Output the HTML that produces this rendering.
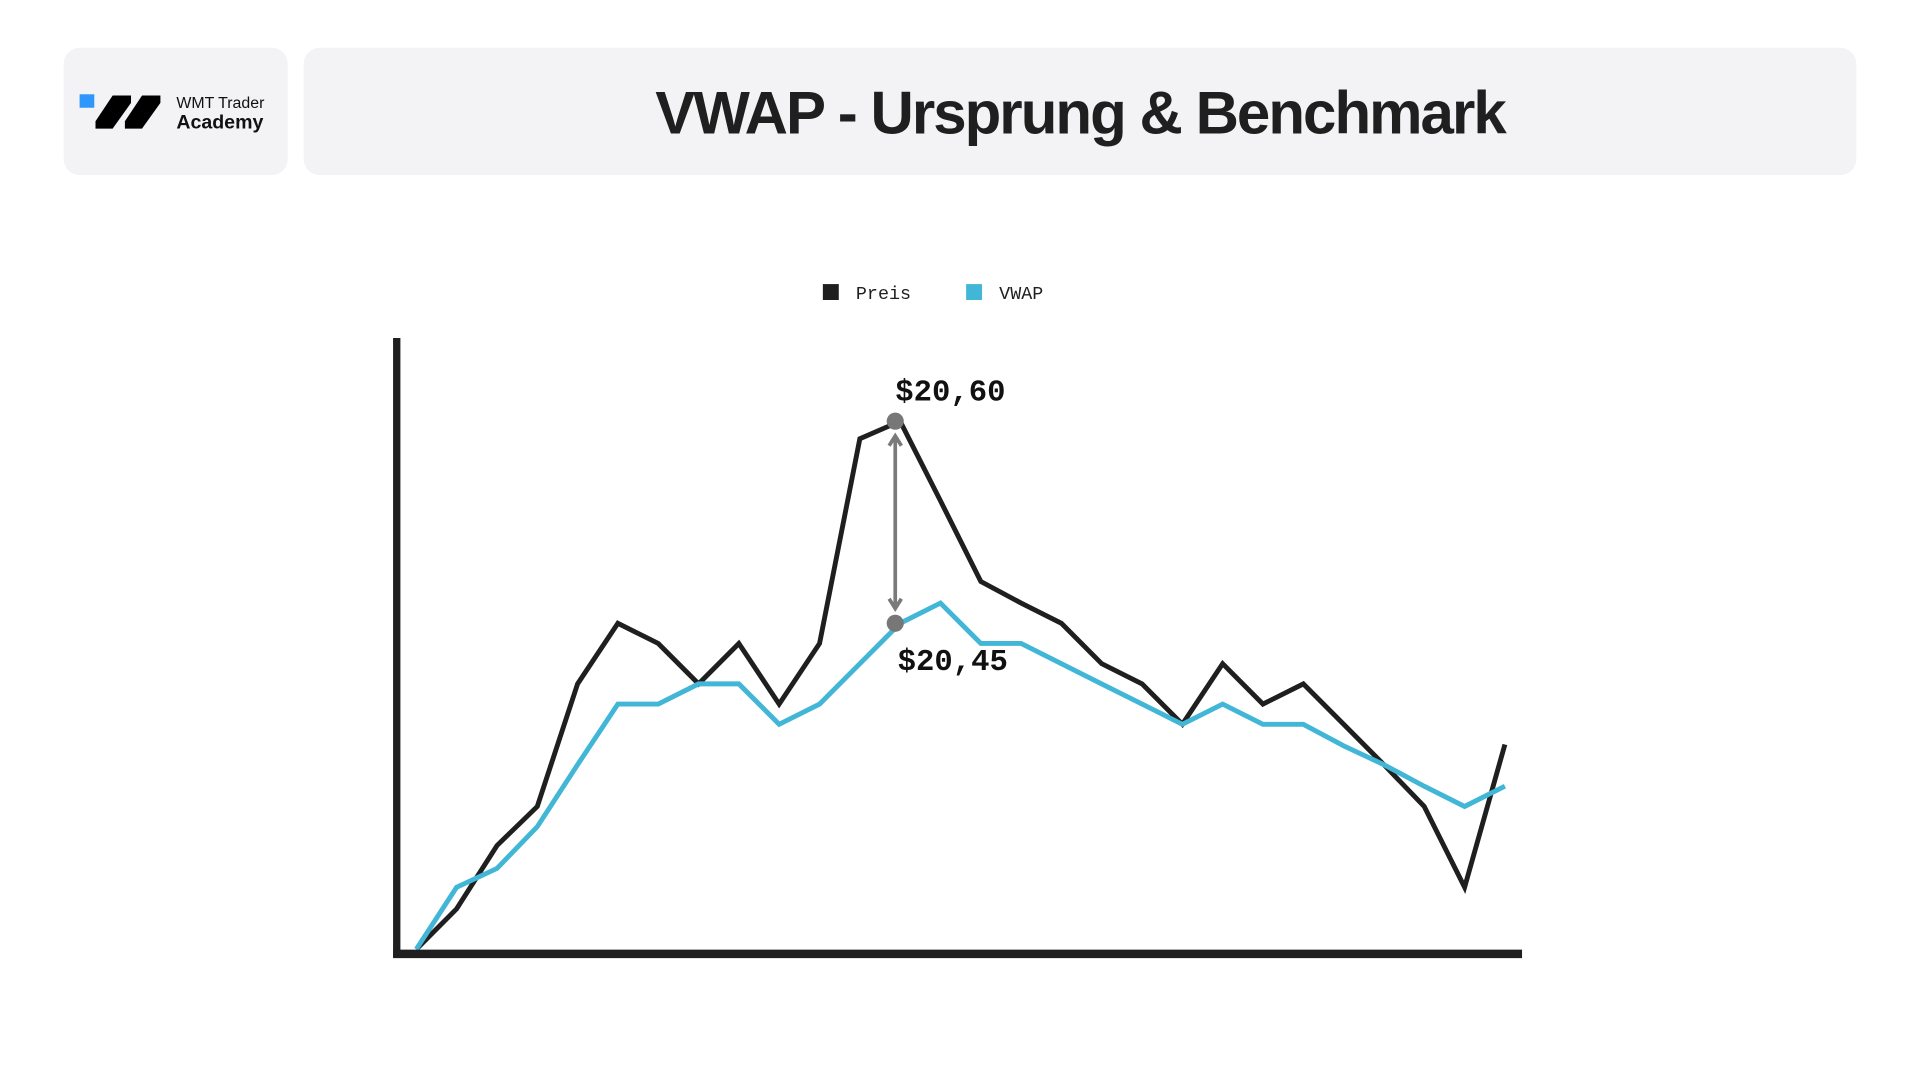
<!DOCTYPE html>
<html><head><meta charset="utf-8">
<style>
html,body{margin:0;padding:0;background:#fff;}
body{width:1920px;height:1080px;overflow:hidden;}
svg{display:block;}
</style></head>
<body>
<svg id="chart" width="1920" height="1080" viewBox="0 0 1568 882" xmlns="http://www.w3.org/2000/svg">
  <rect x="52" y="39" width="183" height="104" rx="13" fill="#f3f3f5"/>
  <rect x="65" y="77" width="12" height="11" fill="#2f96fb"/>
  <polygon points="92,78 107,78 107,84 92,105 78,105 78,99" fill="#000"/>
  <polygon points="116,78 131,78 131,84 116,105 102,105 102,99" fill="#000"/>
  <text x="144" y="88" font-family="Liberation Sans, sans-serif" font-size="13" fill="#111">WMT Trader</text>
  <text x="144" y="105" font-family="Liberation Sans, sans-serif" font-size="16" font-weight="bold" fill="#111">Academy</text>
  <rect x="248" y="39" width="1268" height="104" rx="13" fill="#f3f3f5"/>
  <text x="882" y="109" text-anchor="middle" font-family="Liberation Sans, sans-serif" font-size="49" font-weight="bold" letter-spacing="-1.6" fill="#1f1f1f">VWAP - Ursprung &amp; Benchmark</text>

  <g>
    <rect x="672" y="232" width="13" height="13" fill="#1f1f1f"/>
    <text x="699" y="244" font-family="Liberation Mono, monospace" font-size="15" fill="#1f1f1f">Preis</text>
    <rect x="789" y="232" width="13" height="13" fill="#41b6d6"/>
    <text x="816" y="244" font-family="Liberation Mono, monospace" font-size="15" fill="#1f1f1f">VWAP</text>
  </g>

  <g id="plot"></g>
  <line x1="324" y1="276" x2="324" y2="782" stroke="#1f1f1f" stroke-width="6"/>
  <line x1="321" y1="779" x2="1243" y2="779" stroke="#1f1f1f" stroke-width="7"/>
</svg>
<script>
const categories = Array.from({length:28},(_,i)=>'t'+(i+1));
const priceValues = [20.208,20.238,20.285,20.314,20.405,20.450,20.435,20.405,20.435,20.390,20.435,20.587,20.600,20.541,20.481,20.465,20.450,20.420,20.405,20.375,20.420,20.390,20.405,20.375,20.345,20.314,20.254,20.360];
const vwapValues  = [20.208,20.254,20.268,20.299,20.345,20.390,20.390,20.405,20.405,20.375,20.390,20.420,20.450,20.465,20.435,20.435,20.420,20.405,20.390,20.375,20.390,20.375,20.375,20.359,20.345,20.329,20.314,20.329];
const highlightIndex = 12;
const highlightLabels = ['$20,60','$20,45'];

const NS='http://www.w3.org/2000/svg';
const plot=document.getElementById('plot');
const xScale=i=>340+(1229-340)*i/(categories.length-1);
const yScale=v=>344+(20.60-v)*(509-344)/0.15;

function mk(tag,attrs){const e=document.createElementNS(NS,tag);for(const k in attrs)e.setAttribute(k,attrs[k]);plot.appendChild(e);return e;}

const pricePts=priceValues.map((v,i)=>xScale(i).toFixed(1)+','+yScale(v).toFixed(1)).join(' ');
const vwapPts=vwapValues.map((v,i)=>xScale(i).toFixed(1)+','+yScale(v).toFixed(1)).join(' ');
const pl=mk('polyline',{points:pricePts,fill:'none',stroke:'#1f1f1f','stroke-width':4,'stroke-linejoin':'miter'});


const vl=mk('polyline',{points:vwapPts,fill:'none',stroke:'#41b6d6','stroke-width':4,'stroke-linejoin':'miter'});



const hx=xScale(highlightIndex)-4;
const yTop=yScale(priceValues[highlightIndex]);
const yBot=yScale(vwapValues[highlightIndex]);
const ar=mk('line',{x1:hx,y1:yTop+12,x2:hx,y2:yBot-12,stroke:'#7a7a7a','stroke-width':3});


const h1=mk('polyline',{points:`${hx-5},${yTop+20} ${hx},${yTop+12} ${hx+5},${yTop+20}`,fill:'none',stroke:'#7a7a7a','stroke-width':3});


const h2=mk('polyline',{points:`${hx-5},${yBot-20} ${hx},${yBot-12} ${hx+5},${yBot-20}`,fill:'none',stroke:'#7a7a7a','stroke-width':3});


const d1=mk('circle',{cx:hx,cy:yTop,r:7,fill:'#777'});


const d2=mk('circle',{cx:hx,cy:yBot,r:7,fill:'#777'});


const t1=mk('text',{x:hx,y:yTop-17,'font-family':'Liberation Mono, monospace','font-size':25,'font-weight':'bold',fill:'#111'});
t1.textContent=highlightLabels[0];


const t2=mk('text',{x:hx+2,y:yBot+38,'font-family':'Liberation Mono, monospace','font-size':25,'font-weight':'bold',fill:'#111'});
t2.textContent=highlightLabels[1];


</script>
</body></html>
